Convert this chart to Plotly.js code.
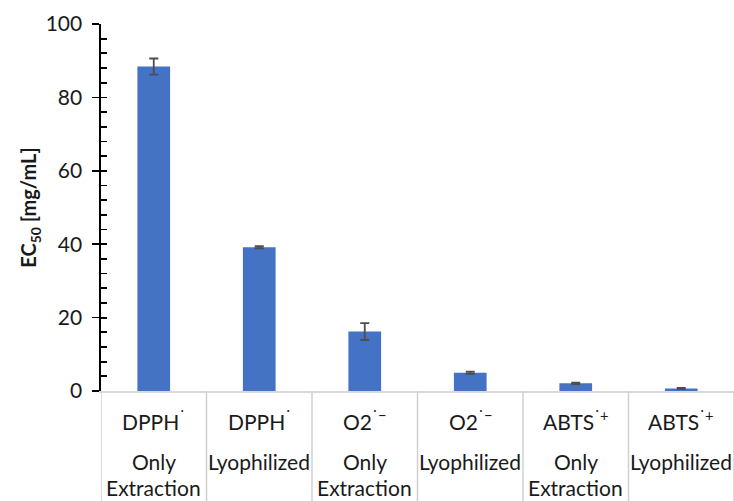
<!DOCTYPE html>
<html>
<head>
<meta charset="utf-8">
<script src="https://cdn.plot.ly/plotly-3.0.1.min.js"></script>
<style>html,body{margin:0;padding:0;background:#fff;}#chart{width:734px;height:501px;}</style>
</head>
<body>
<div id="chart"></div>
<script>
// Data
const categories = ["DPPH Only Extraction", "DPPH Lyophilized", "O2 Only Extraction", "O2 Lyophilized", "ABTS Only Extraction", "ABTS Lyophilized"];
const labelTop = ["DPPH<sup>˙</sup>", "DPPH<sup>˙</sup>", "O2<sup>˙−</sup>", "O2<sup>˙−</sup>", "ABTS<sup>˙+</sup>", "ABTS<sup>˙+</sup>"];
const labelMid = ["Only", "Lyophilized", "Only", "Lyophilized", "Only", "Lyophilized"];
const labelLow = ["Extraction", "", "Extraction", "", "Extraction", ""];
const ec50 = [88.4, 39.2, 16.2, 5.0, 2.1, 0.7];
const ec50Err = [2.2, 0.3, 2.3, 0.3, 0.2, 0.15];
const yTicks = [0, 20, 40, 60, 80, 100];

const font = "Lato, 'Open Sans', sans-serif";

const trace = {
  type: "bar",
  x: categories,
  y: ec50,
  marker: {color: "#4472c4", line: {width: 0}},
  error_y: {type: "data", array: ec50Err, visible: true, color: "#4d4d4d", thickness: 1.8, width: 4.5},
  hoverinfo: "none"
};
// overlay trace to carry the inside (minor) tick axis
const ghost = {type: "scatter", x: [categories[0]], y: [0], yaxis: "y2", mode: "markers", marker: {opacity: 0}, hoverinfo: "none", showlegend: false};

const annotations = [];
const shapes = [];
categories.forEach((c, i) => {
  annotations.push({x: c, xref: "x", y: -0.079, yref: "paper", yanchor: "middle", text: labelTop[i], showarrow: false, font: {family: font, size: 21, color: "#1a1a1a"}});
  annotations.push({x: c, xref: "x", y: -0.193, yref: "paper", yanchor: "middle", text: labelMid[i], showarrow: false, font: {family: font, size: 21, color: "#1a1a1a"}});
  if (labelLow[i]) annotations.push({x: c, xref: "x", y: -0.262, yref: "paper", yanchor: "middle", text: labelLow[i], showarrow: false, font: {family: font, size: 21, color: "#1a1a1a"}});
});
for (let k = 0; k <= categories.length; k++) {
  shapes.push({type: "line", xref: "x", yref: "paper", x0: k - 0.5, x1: k - 0.5, y0: 0, y1: -0.32, line: {color: "#d0d0d0", width: 1.5}});
}

const layout = {
  width: 734, height: 501,
  margin: {l: 101, r: 0, t: 24, b: 110},
  paper_bgcolor: "#fff", plot_bgcolor: "#fff",
  showlegend: false,
  bargap: 0.69,
  xaxis: {type: "category", range: [-0.5, 5.5], showticklabels: false, ticks: "", showgrid: false, zeroline: false, showline: true, linecolor: "#d9d9d9", linewidth: 1.5},
  yaxis: {range: [0, 100], tickvals: yTicks, ticks: "outside", ticklen: 7, tickwidth: 1.6, tickcolor: "#000", showline: true, linecolor: "#000", linewidth: 1.6, showgrid: false, zeroline: false,
    tickfont: {family: font, size: 21, color: "#1a1a1a"}, ticklabelstandoff: 6,
    title: {text: "<b>EC<sub>50</sub> [mg/mL]</b>", font: {family: font, size: 20, color: "#1a1a1a"}, standoff: 3}},
  yaxis2: {overlaying: "y", range: [0, 100], dtick: 4, tick0: 0, ticks: "inside", ticklen: 6, tickwidth: 1.8, tickcolor: "#000", showticklabels: false, showgrid: false, zeroline: false, showline: false},
  annotations: annotations,
  shapes: shapes
};

Plotly.newPlot("chart", [trace, ghost], layout, {displayModeBar: false, staticPlot: true});
</script>
</body>
</html>
